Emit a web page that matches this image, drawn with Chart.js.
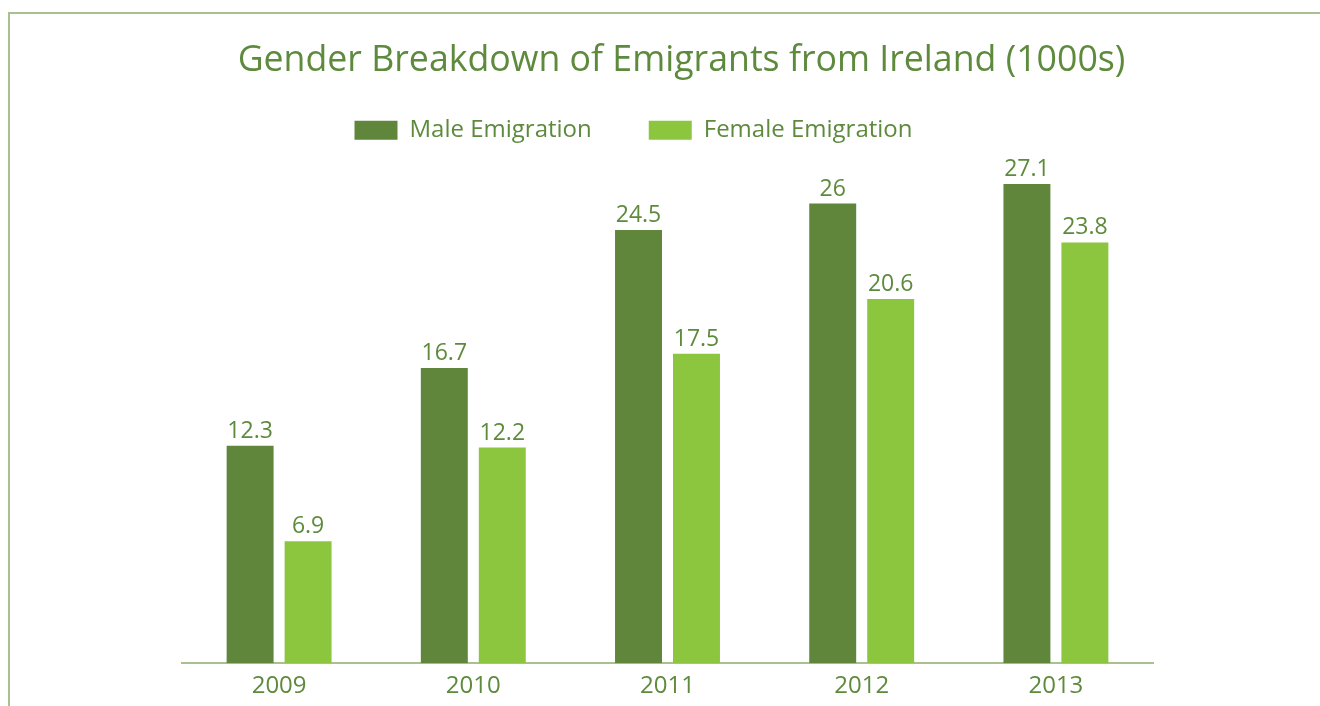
<!DOCTYPE html>
<html>
<head>
<meta charset="utf-8">
<script src="https://cdn.jsdelivr.net/npm/chart.js@4.4.1/dist/chart.umd.min.js"></script>
<style>
  html, body { margin: 0; padding: 0; background: #ffffff; }
  #wrap { position: relative; width: 1320px; height: 706px; overflow: hidden; }
  #frame { position: absolute; left: 8px; top: 12px; width: 1320px; height: 720px;
           border-top: 2px solid #a9c08f; border-left: 2px solid #a9c08f; box-sizing: border-box; }
  #c { position: absolute; left: 0; top: 0; }
</style>
</head>
<body>
<div id="wrap">
  <div id="frame"></div>
  <canvas id="c" width="1320" height="706"></canvas>
</div>
<script>
const titleText = 'Gender Breakdown of Emigrants from Ireland (1000s)';
const years = ['2009', '2010', '2011', '2012', '2013'];
const maleLabel = 'Male Emigration';
const femaleLabel = 'Female Emigration';
const maleValues = [12.3, 16.7, 24.5, 26, 27.1];
const femaleValues = [6.9, 12.2, 17.5, 20.6, 23.8];

const textColor = '#5d8a3c';
const maleColor = '#5f863a';
const femaleColor = '#8cc63f';
const FONT = "'Open Sans', 'Noto Sans', sans-serif";

const valueLabels = {
  id: 'valueLabels',
  afterDatasetsDraw(chart) {
    const ctx = chart.ctx;
    ctx.save();
    ctx.font = '23px ' + FONT;
    ctx.fillStyle = textColor;
    ctx.textAlign = 'center';
    ctx.textBaseline = 'alphabetic';
    chart.data.datasets.forEach((ds, i) => {
      const meta = chart.getDatasetMeta(i);
      meta.data.forEach((bar, j) => {
        ctx.fillText(String(ds.data[j]), bar.x, bar.y - 8);
      });
    });
    ctx.restore();
  }
};

// horizontal nudge of the title and legend boxes, as in the reference
const boxShift = {
  id: 'boxShift',
  beforeDraw(chart) {
    if (chart.titleBlock && !chart.titleBlock._shifted) {
      chart.titleBlock.left += 14; chart.titleBlock.right += 14; chart.titleBlock._shifted = true;
    }
    if (chart.legend && !chart.legend._shifted) {
      chart.legend.left -= 34; chart.legend.right -= 34; chart.legend._shifted = true;
    }
  }
};

new Chart(document.getElementById('c'), {
  type: 'bar',
  data: {
    labels: years,
    datasets: [
      { label: maleLabel, data: maleValues, backgroundColor: maleColor, borderWidth: 0 },
      { label: femaleLabel, data: femaleValues, backgroundColor: femaleColor, borderWidth: 0 }
    ]
  },
  options: {
    responsive: false,
    animation: false,
    devicePixelRatio: 1,
    categoryPercentage: 0.597,
    barPercentage: 0.81,
    layout: { padding: { left: 182, right: 167, top: 20, bottom: -4 } },
    plugins: {
      title: {
        display: true,
        text: titleText,
        color: textColor,
        font: { family: FONT, size: 35.7, weight: 'normal' },
        padding: { top: 19, bottom: -20.6 }
      },
      legend: {
        display: true,
        position: 'top',
        labels: {
          color: textColor,
          font: { family: FONT, size: 24 },
          boxWidth: 43,
          boxHeight: 19,
          padding: 57
        }
      },
      tooltip: { enabled: false }
    },
    scales: {
      x: {
        grid: { display: false, drawTicks: false },
        border: { display: true, color: '#a9c08f', width: 2 },
        ticks: { color: textColor, font: { family: FONT, size: 24 }, padding: 9 }
      },
      y: {
        display: false,
        min: 0,
        max: 28.9
      }
    }
  },
  plugins: [valueLabels, boxShift]
});
</script>
</body>
</html>
